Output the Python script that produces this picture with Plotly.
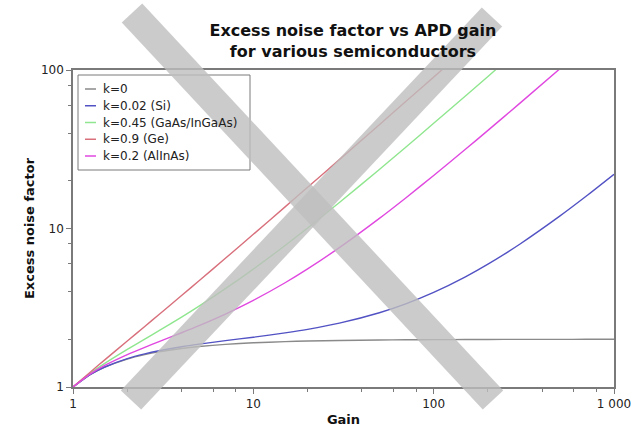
import plotly.graph_objects as go

# Gain values (x) and excess noise factor
gain = [1, 1.25, 1.5, 2, 2.5, 3, 4, 5, 7, 10, 15, 20, 30, 50, 70, 100,
        150, 200, 300, 500, 700, 1000]

f_k0 = [1.0, 1.2, 1.333, 1.5, 1.6, 1.667, 1.75, 1.8, 1.857, 1.9, 1.933, 1.95,
        1.967, 1.98, 1.986, 1.99, 1.993, 1.995, 1.997, 1.998, 1.999, 1.999]
f_si = [1.0, 1.201, 1.337, 1.51, 1.618, 1.693, 1.795, 1.864, 1.96, 2.062, 2.195,
        2.311, 2.527, 2.94, 3.346, 3.95, 4.954, 5.955, 7.957, 11.958, 15.959, 21.959]
f_gaas = [1.0, 1.2225, 1.408, 1.725, 2.005, 2.267, 2.763, 3.24, 4.171, 5.545,
          7.813, 10.073, 14.582, 23.589, 32.592, 46.095, 68.596, 91.097, 136.1]
f_ge = [1.0, 1.245, 1.483, 1.95, 2.41, 2.867, 3.775, 4.68, 6.486, 9.19, 13.693,
        18.195, 27.197, 45.198, 63.199, 90.199, 135.2]
f_alinas = [1.0, 1.21, 1.367, 1.6, 1.78, 1.933, 2.2, 2.44, 2.886, 3.52, 4.547,
            5.56, 7.573, 11.584, 15.589, 21.592, 31.595, 41.596, 61.597, 101.6]

series_names = ["k=0", "k=0.02 (Si)", "k=0.45 (GaAs/InGaAs)", "k=0.9 (Ge)", "k=0.2 (AlInAs)"]
series_values = [f_k0, f_si, f_gaas, f_ge, f_alinas]
series_colors = ["#8a8a8a", "#5252c4", "#8fe68f", "#d8707c", "#e048e0"]

x_tickvals = [1, 10, 100, 1000]
x_ticktext = ["1", "10", "100", "1 000"]
y_tickvals = [1, 10, 100]
y_ticktext = ["1", "10", "100"]
x_minor = [2, 4, 6, 8, 20, 40, 60, 80, 200, 400, 600, 800]
y_minor = [2, 4, 6, 8, 20, 40, 60, 80]

fig = go.Figure()
for name, vals, col in zip(series_names, series_values, series_colors):
    fig.add_trace(go.Scatter(
        x=gain[:len(vals)], y=vals, mode="lines", name=name, showlegend=False,
        line=dict(color=col, width=1.4, shape="spline", smoothing=0.6)))

W, H = 636, 430
PL, PR, PT, PB = 73, 614, 70, 387          # plot area in window pixels
L, R, T, B = PL, W - PR, PT, H - PB
pw, ph = PR - PL, PB - PT


def px(X):
    return (X - PL) / pw


def py(Y):
    return (PB - Y) / ph


font = "DejaVu Sans, Verdana, sans-serif"
axis_common = dict(
    type="log", showline=True, linecolor="#7a7a7a", linewidth=1.5, mirror=True,
    ticks="outside", ticklen=5, tickcolor="#7a7a7a", showgrid=False, zeroline=False,
    automargin=False,
    tickfont=dict(family=font, size=12, color="#222222"),
)

fig.update_xaxes(
    range=[0, 3], tickmode="array", tickvals=x_tickvals, ticktext=x_ticktext,
    minor=dict(tickmode="array", tickvals=x_minor, ticks="outside", ticklen=3,
               tickcolor="#7a7a7a", showgrid=False),
    title=dict(text="<b>Gain</b>", font=dict(family=font, size=13, color="#111111"),
               standoff=5),
    **axis_common)
fig.update_yaxes(
    range=[0, 2], tickmode="array", tickvals=y_tickvals, ticktext=y_ticktext,
    minor=dict(tickmode="array", tickvals=y_minor, ticks="outside", ticklen=3,
               tickcolor="#7a7a7a", showgrid=False),
    title=dict(text="<b>Excess noise factor</b>",
               font=dict(family=font, size=13, color="#111111"), standoff=3),
    **axis_common)

# Hand-drawn legend box (short line keys as in the reference)
leg_x0, leg_x1, leg_y0, leg_y1 = 78, 250, 75, 170
fig.add_shape(type="rect", xref="paper", yref="paper",
              x0=px(leg_x0), x1=px(leg_x1), y0=py(leg_y0), y1=py(leg_y1),
              line=dict(color="#7a7a7a", width=1), fillcolor="rgba(0,0,0,0)")
for i, (name, col) in enumerate(zip(series_names, series_colors)):
    yy = 89 + 16.75 * i
    fig.add_shape(type="line", xref="paper", yref="paper",
                  x0=px(85), x1=px(96), y0=py(yy), y1=py(yy),
                  line=dict(color=col, width=1.5))
    fig.add_annotation(xref="paper", yref="paper", x=px(101), y=py(yy),
                       xanchor="left", yanchor="middle", showarrow=False,
                       text=name, font=dict(family=font, size=12, color="#222222"))

band = "rgba(190,190,190,0.8)"
fig.add_shape(type="line", xref="paper", yref="paper",
              x0=px(132), y0=py(13), x1=px(493), y1=py(400),
              line=dict(color=band, width=28), layer="above")
fig.add_shape(type="line", xref="paper", yref="paper",
              x0=px(492), y0=py(17), x1=px(131), y1=py(400),
              line=dict(color=band, width=28), layer="above")

fig.update_layout(
    width=W, height=H,
    margin=dict(l=L, r=R, t=T, b=B, autoexpand=False),
    paper_bgcolor="white", plot_bgcolor="white",
    title=dict(text="<b>Excess noise factor vs APD gain<br>for various semiconductors</b>",
               x=353 / W, xanchor="center", xref="container",
               y=1 - 36 / H, yanchor="top", yref="container",
               font=dict(family=font, size=16, color="#111111")),
    showlegend=False,
)

fig.write_html(
    "out.html",
    config={"displayModeBar": False},
    post_script="document.body.style.margin='0';document.body.style.overflow='hidden';",
)
